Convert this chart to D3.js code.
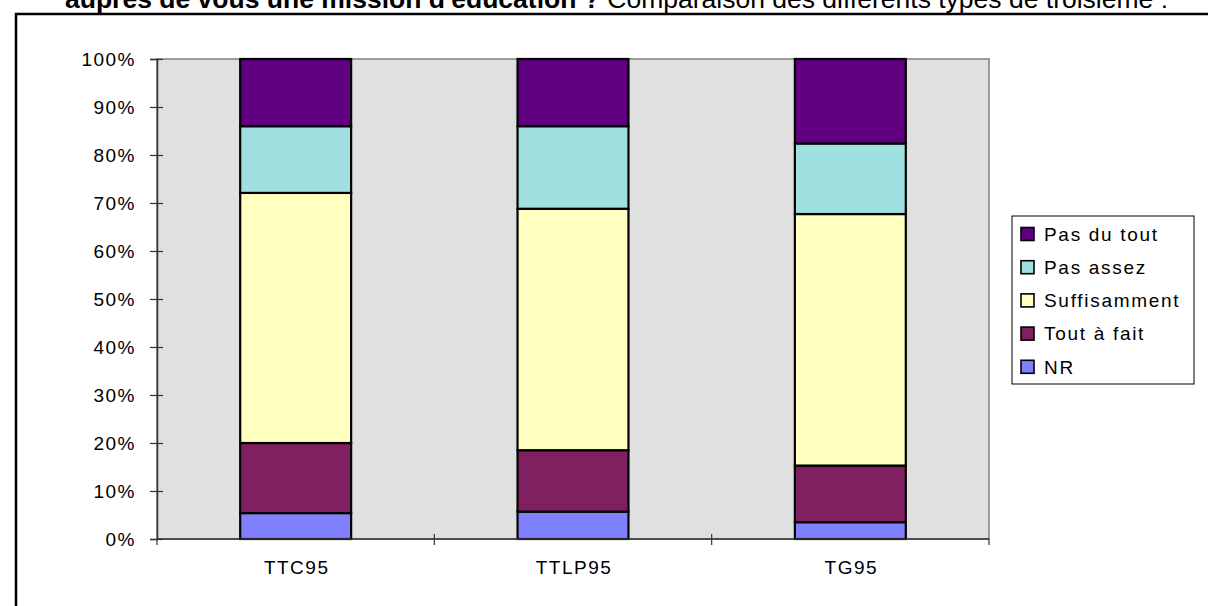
<!DOCTYPE html>
<meta charset="utf-8">
<style>
body { margin: 0; background: #fff; }
text { font-family: "Liberation Sans", Arial, sans-serif; fill: #000; }
</style>
<body>
<svg id="chart" width="1208" height="606"></svg>
<script src="https://cdn.jsdelivr.net/npm/d3@7"></script>
<script>

// the values (percent of each column)
var categories = ["TTC95", "TTLP95", "TG95"];
var nr = [5.4, 5.7, 3.5];
var toutAFait = [14.6, 12.8, 11.8];
var suffisamment = [52.1, 50.3, 52.4];
var pasAssez = [13.9, 17.2, 14.7];
var pasDuTout = [14.0, 14.0, 17.6];
var yTicks = [0, 10, 20, 30, 40, 50, 60, 70, 80, 90, 100];

var seriesNames = ["NR", "Tout à fait", "Suffisamment", "Pas assez", "Pas du tout"];
var seriesValues = [nr, toutAFait, suffisamment, pasAssez, pasDuTout];
var colors = {
  "NR": "#8080ff",
  "Tout à fait": "#802060",
  "Suffisamment": "#ffffc0",
  "Pas assez": "#a0e0e0",
  "Pas du tout": "#600080"
};

var rows = categories.map(function(c, i) {
  var r = {cat: c};
  seriesNames.forEach(function(s, j) { r[s] = seriesValues[j][i]; });
  return r;
});

var plot = {left: 157, top: 59, right: 989, bottom: 539};

var svg = d3.select("#chart");

// title (cut off by the top of the page in the original)
var title = svg.append("text")
    .attr("x", 65)
    .attr("y", 8)
    .style("font-size", "26.5px");
title.append("tspan").style("font-weight", "bold").text("auprès de vous une mission d'éducation ?");
title.append("tspan").text(" Comparaison des différents types de troisième :");

// outer frame
svg.append("rect")
    .attr("x", 16).attr("y", 14)
    .attr("width", 1250).attr("height", 650)
    .attr("fill", "none")
    .attr("stroke", "#000")
    .attr("stroke-width", 2.5);

var x = d3.scaleBand()
    .domain(categories)
    .range([plot.left, plot.right])
    .paddingInner(0.6)
    .paddingOuter(0.3);

var y = d3.scaleLinear()
    .domain([0, 100])
    .range([plot.bottom, plot.top]);

// plot background
svg.append("rect")
    .attr("x", plot.left).attr("y", plot.top)
    .attr("width", plot.right - plot.left)
    .attr("height", plot.bottom - plot.top)
    .attr("fill", "#e0e0e0")
    .attr("stroke", "#808080")
    .attr("stroke-width", 1.5);

var stack = d3.stack().keys(seriesNames);
var series = stack(rows);

svg.append("g").selectAll("g")
    .data(series)
  .enter().append("g")
    .attr("fill", d => colors[d.key])
  .selectAll("rect")
    .data(d => d)
  .enter().append("rect")
    .attr("x", d => x(d.data.cat))
    .attr("y", d => y(d[1]))
    .attr("width", x.bandwidth())
    .attr("height", d => y(d[0]) - y(d[1]))
    .attr("stroke", "#000")
    .attr("stroke-width", 2.2);

// y axis
var yAxis = svg.append("g")
    .attr("transform", "translate(" + plot.left + ",0)")
    .call(d3.axisLeft(y).tickValues(yTicks).tickSize(7).tickFormat(d => d + "%"));
yAxis.select(".domain").attr("stroke", "#333").attr("stroke-width", 1.5);
yAxis.selectAll(".tick line").attr("x1", 6).attr("stroke", "#333").attr("stroke-width", 1.2);
yAxis.selectAll(".tick text")
    .attr("x", -21)
    .attr("dy", "0.36em")
    .style("font-size", "19px")
    .style("letter-spacing", "1.5px")
    .attr("fill", "#000");

// x axis: ticks sit between the categories
var xAxis = svg.append("g")
    .attr("transform", "translate(0," + plot.bottom + ")");
xAxis.append("line")
    .attr("x1", plot.left).attr("x2", plot.right)
    .attr("stroke", "#333").attr("stroke-width", 1.5);
var bounds = categories.map(c => x(c) - x.bandwidth() * 0.75).concat([plot.right]);
xAxis.selectAll(".xtick")
    .data(bounds)
  .enter().append("line")
    .attr("x1", d => d).attr("x2", d => d)
    .attr("y1", (d, i) => (i === 0 || i === bounds.length - 1) ? 0 : -5)
    .attr("y2", 6)
    .attr("stroke", "#333").attr("stroke-width", 1.2);
xAxis.selectAll(".xlabel")
    .data(categories)
  .enter().append("text")
    .attr("x", d => x(d) + x.bandwidth() / 2 + 1)
    .attr("y", 35)
    .attr("text-anchor", "middle")
    .style("font-size", "19px")
    .style("letter-spacing", "1.5px")
    .text(d => d);

// legend (top series first)
var legendBox = svg.append("g").attr("transform", "translate(1012,216)");
legendBox.append("rect")
    .attr("width", 182).attr("height", 168)
    .attr("fill", "#fff").attr("stroke", "#000").attr("stroke-width", 1);
var item = legendBox.selectAll(".item")
    .data(seriesNames.slice().reverse())
  .enter().append("g")
    .attr("transform", (d, i) => "translate(0," + (18 + i * 33.2) + ")");
item.append("rect")
    .attr("x", 9).attr("y", -6.5)
    .attr("width", 13).attr("height", 13)
    .attr("fill", d => colors[d])
    .attr("stroke", "#000").attr("stroke-width", 1.6);
item.append("text")
    .attr("x", 32)
    .attr("dy", "0.36em")
    .style("font-size", "19px")
    .style("letter-spacing", "1.7px")
    .text(d => d);

</script>
</body>
